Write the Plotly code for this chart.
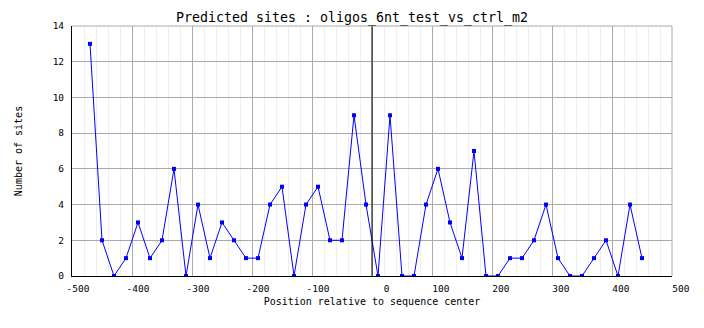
import plotly.graph_objects as go

positions = list(range(-470, 451, 20))
sites = [13, 2, 0, 1, 3, 1, 2, 6, 0, 4, 1, 3, 2, 1, 1, 4, 5, 0, 4, 5, 2, 2, 9, 4, 0,
         9, 0, 0, 4, 6, 3, 1, 7, 0, 0, 1, 1, 2, 4, 1, 0, 0, 1, 2, 0, 4, 1]
x_ticks = [-500, -400, -300, -200, -100, 0, 100, 200, 300, 400, 500]
y_ticks = [0, 2, 4, 6, 8, 10, 12, 14]

title = "Predicted sites : oligos_6nt_test_vs_ctrl_m2"
x_title = "Position relative to sequence center"
y_title = "Number of sites"

FONT = "DejaVu Sans Mono"

# pad tick labels to 4 chars so they line up right-aligned like the original
x_ticktext = [("\u00a0" * (4 - len(str(v)))) + str(v) for v in x_ticks]

fig = go.Figure()
fig.add_trace(go.Scatter(
    x=positions, y=sites, mode="lines+markers",
    line=dict(color="#0000ff", width=1),
    marker=dict(symbol="square", size=4, color="#0000ff", line=dict(width=0)),
    showlegend=False, hoverinfo="x+y",
))

fig.add_shape(type="line", xref="x", yref="paper", x0=0, x1=0, y0=0, y1=1,
              line=dict(color="black", width=1), layer="above")

fig.update_layout(
    width=704, height=328,
    margin=dict(l=72, r=32, t=26, b=52),
    paper_bgcolor="white", plot_bgcolor="white",
    title=dict(text=title, x=0.5, xanchor="center", y=1 - 17 / 328, yanchor="middle",
               font=dict(family=FONT, size=13.3, color="black")),
    xaxis=dict(
        range=[-500, 500], tickmode="array", tickvals=x_ticks, ticktext=x_ticktext,
        showgrid=True, gridcolor="#aaaaaa", gridwidth=1,
        minor=dict(dtick=20, showgrid=True, gridcolor="#eeeeee", gridwidth=1),
        showline=True, linecolor="black", linewidth=1, mirror=False,
        zeroline=False, ticks="",
        ticklabelshift=6, ticklabelstandoff=4,
        tickfont=dict(family=FONT, size=9.5, color="black"),
        title=dict(text=x_title, font=dict(family=FONT, size=10, color="black"), standoff=4),
    ),
    yaxis=dict(
        range=[0, 14], tickmode="array", tickvals=y_ticks,
        showgrid=True, gridcolor="#aaaaaa", gridwidth=1,
        showline=True, linecolor="black", linewidth=1,
        zeroline=False, ticks="", ticklabelstandoff=5,
        tickfont=dict(family=FONT, size=9.5, color="black"),
        title=dict(text=y_title, font=dict(family=FONT, size=10, color="black"), standoff=28),
    ),
)

# gray frame on top and right
fig.add_shape(type="line", xref="paper", yref="paper", x0=0, x1=1, y0=1, y1=1,
              line=dict(color="#aaaaaa", width=1))
fig.add_shape(type="line", xref="paper", yref="paper", x0=1, x1=1, y0=0, y1=1,
              line=dict(color="#aaaaaa", width=1))

fig.write_html("out.html")
